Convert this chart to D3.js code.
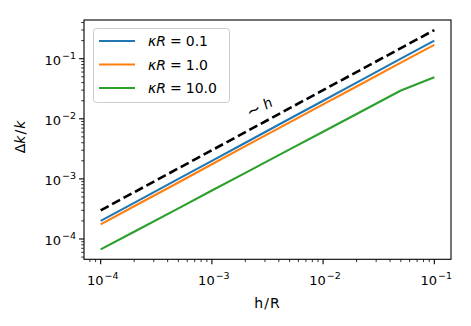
<!DOCTYPE html>
<html><head><meta charset="utf-8">
<script src="https://cdn.jsdelivr.net/npm/d3@7"></script>
<style>body{margin:0;background:#fff}svg{display:block}text{font-family:"DejaVu Sans",sans-serif;fill:#000}</style>
</head><body><svg id="c" width="471" height="326"></svg>
<script>
const hValues = [1e-4, 2e-4, 5e-4, 1e-3, 2e-3, 5e-3, 1e-2, 2e-2, 5e-2, 1e-1];
const seriesKappa = ["0.1", "1.0", "10.0"];
const series01 = [2.0e-4, 4.0e-4, 1.0e-3, 2.0e-3, 4.0e-3, 1.0e-2, 2.0e-2, 4.0e-2, 1.0e-1, 2.0e-1];
const series1 = [1.75e-4, 3.5e-4, 8.7e-4, 1.75e-3, 3.5e-3, 8.7e-3, 1.74e-2, 3.45e-2, 8.6e-2, 1.7e-1];
const series10 = [6.7e-5, 1.32e-4, 3.24e-4, 6.4e-4, 1.26e-3, 3.1e-3, 6.1e-3, 1.2e-2, 2.96e-2, 4.9e-2];
const refLine = [3e-4, 3e-1];
const refH = [1e-4, 1e-1];
const colors = ["#1f77b4", "#ff7f0e", "#2ca02c"];
const xTickExps = [-4, -3, -2, -1];
const yTickExps = [-4, -3, -2, -1];

const svg = d3.select("#c");
const L = 84, R = 451, T = 20, B = 259.3;
const x = d3.scaleLog().domain([Math.pow(10, -4.15), Math.pow(10, -0.85)]).range([L, R]);
const y = d3.scaleLog().domain([Math.pow(10, -4.338), Math.pow(10, -0.356)]).range([B, T]);

function minors(scale) {
  const [a, b] = scale.domain();
  const out = [];
  for (let e = Math.floor(Math.log10(a)); e <= Math.ceil(Math.log10(b)); e++) {
    for (let m = 2; m <= 9; m++) {
      const v = m * Math.pow(10, e);
      if (v >= a && v <= b) out.push(v);
    }
  }
  return out;
}
function tickLabel(sel, e) {
  sel.append("tspan").text("10");
  sel.append("tspan").attr("dx", 1).attr("dy", -6).style("font-size", "9.5px").text("−" + (-e));
}
const g = svg.append("g");
minors(x).forEach(v => g.append("line").attr("x1", x(v)).attr("x2", x(v)).attr("y1", B).attr("y2", B + 2.8).attr("stroke", "#000").attr("stroke-width", 0.8));
minors(y).forEach(v => g.append("line").attr("y1", y(v)).attr("y2", y(v)).attr("x1", L).attr("x2", L - 2.8).attr("stroke", "#000").attr("stroke-width", 0.8));
xTickExps.forEach(e => {
  const v = Math.pow(10, e);
  g.append("line").attr("x1", x(v)).attr("x2", x(v)).attr("y1", B).attr("y2", B + 4.9).attr("stroke", "#000").attr("stroke-width", 1.1);
  const t = g.append("text").attr("x", x(v) + 2).attr("y", B + 26).attr("text-anchor", "middle").style("font-size", "13px");
  tickLabel(t, e);
});
yTickExps.forEach(e => {
  const v = Math.pow(10, e);
  g.append("line").attr("y1", y(v)).attr("y2", y(v)).attr("x1", L).attr("x2", L - 4.9).attr("stroke", "#000").attr("stroke-width", 1.1);
  const t = g.append("text").attr("x", L - 8).attr("y", y(v) + 6).attr("text-anchor", "end").style("font-size", "13px");
  tickLabel(t, e);
});

const line = d3.line().x(d => x(d[0])).y(d => y(d[1]));
svg.append("path").datum(refH.map((h, i) => [h, refLine[i]])).attr("d", line)
  .attr("fill", "none").attr("stroke", "#000").attr("stroke-width", 2.6).attr("stroke-dasharray", "9,4");
[series01, series1, series10].forEach((s, i) => {
  svg.append("path").datum(hValues.map((h, j) => [h, s[j]])).attr("d", line)
    .attr("fill", "none").attr("stroke", colors[i]).attr("stroke-width", 2.1).attr("stroke-linejoin", "round");
});

const angle = -Math.atan((y(1e-3) - y(1e-2)) / (x(1e-2) - x(1e-3))) * 180 / Math.PI;
const ann = svg.append("text").attr("transform", `translate(262,112) rotate(${angle})`).attr("text-anchor", "middle").style("font-size", "14px");
ann.append("tspan").style("font-size", "17px").text("∼");
ann.append("tspan").attr("dx", 4).style("font-style", "italic").text("h");

svg.append("rect").attr("x", L).attr("y", T).attr("width", R - L).attr("height", B - T)
  .attr("fill", "none").attr("stroke", "#000").attr("stroke-width", 1.1);

const lg = svg.append("g");
lg.append("rect").attr("x", 93.5).attr("y", 28.5).attr("width", 136).attr("height", 74).attr("rx", 3)
  .attr("fill", "#fff").attr("fill-opacity", 0.8).attr("stroke", "#ccc").attr("stroke-width", 1);
seriesKappa.forEach((k, i) => {
  const yy = 41 + i * 23.5;
  lg.append("line").attr("x1", 99).attr("x2", 135).attr("y1", yy).attr("y2", yy).attr("stroke", colors[i]).attr("stroke-width", 2.1);
  const t = lg.append("text").attr("x", 148).attr("y", yy + 5).style("font-size", "14px");
  t.append("tspan").style("font-style", "italic").text("κR");
  t.append("tspan").attr("dx", 4).text("=");
  t.append("tspan").attr("dx", 4).text(k);
});

svg.append("text").attr("x", (L + R) / 2).attr("y", 308).attr("text-anchor", "middle").style("font-size", "14px")
  .style("letter-spacing", "1px").text("h/R");
const yl = svg.append("text").attr("transform", "translate(25,137) rotate(-90)").attr("text-anchor", "middle").style("font-size", "14px");
yl.append("tspan").text("Δ");
yl.append("tspan").style("font-style", "italic").text("k");
yl.append("tspan").attr("dx", 1).text("/");
yl.append("tspan").attr("dx", 1).style("font-style", "italic").text("k");
</script></body></html>
